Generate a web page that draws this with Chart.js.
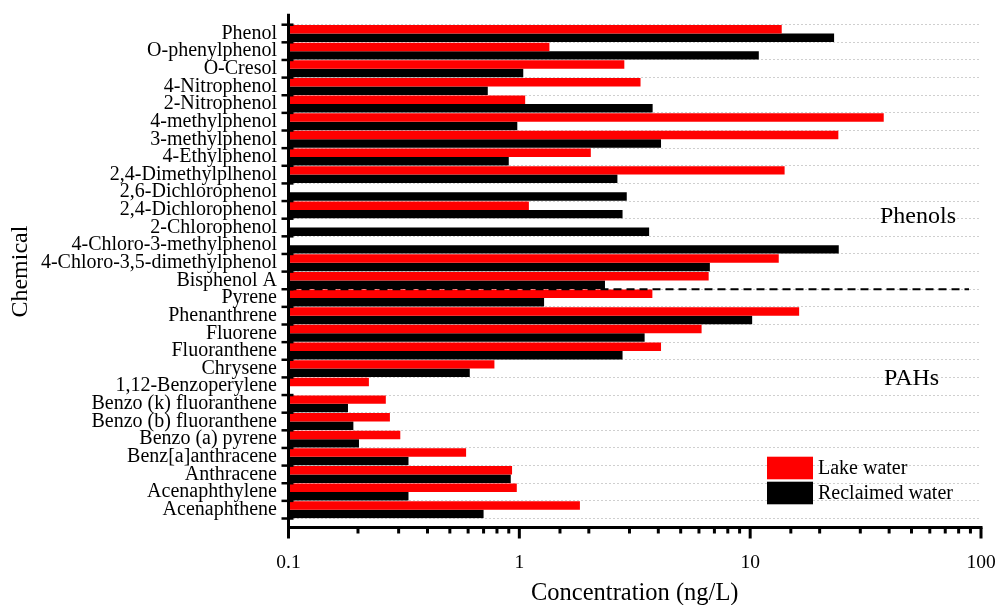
<!DOCTYPE html>
<html lang="en">
<head>
   <meta charset="UTF-8">
   <title>Concentration of phenols and PAHs</title>
   <script src="https://cdn.jsdelivr.net/npm/chart.js@4.4.1/dist/chart.umd.min.js"></script>
   <style>
      html, body { margin: 0; padding: 0; background: #fff; }
      #wrap { width: 997px; height: 605px; }
   </style>
</head>
<body>
   <div id="wrap"><canvas id="myChart" width="997" height="605"></canvas></div>
   <script>
      // categories, top to bottom
      var chemicals = ['Phenol', 'O-phenylphenol', 'O-Cresol', '4-Nitrophenol', '2-Nitrophenol', '4-methylphenol',
         '3-methylphenol', '4-Ethylphenol', '2,4-Dimethylplhenol', '2,6-Dichlorophenol', '2,4-Dichlorophenol',
         '2-Chlorophenol', '4-Chloro-3-methylphenol', '4-Chloro-3,5-dimethylphenol', 'Bisphenol A',
         'Pyrene', 'Phenanthrene', 'Fluorene', 'Fluoranthene', 'Chrysene', '1,12-Benzoperylene',
         'Benzo (k) fluoranthene', 'Benzo (b) fluoranthene', 'Benzo (a) pyrene', 'Benz[a]anthracene',
         'Anthracene', 'Acenaphthylene', 'Acenaphthene'];
      // ng/L, null = not detected
      var lakeWater = [13.7, 1.35, 2.85, 3.35, 1.06, 37.9, 24.1, 2.04, 14.1, null, 1.10, null, null, 13.3, 6.61,
         3.77, 16.3, 6.16, 4.11, 0.78, 0.223, 0.264, 0.275, 0.305, 0.588, 0.93, 0.975, 1.83];
      var reclaimedWater = [23.1, 10.9, 1.04, 0.73, 3.78, 0.98, 4.11, 0.90, 2.66, 2.92, 2.80, 3.65, 24.2, 6.69, 2.35,
         1.28, 10.2, 3.49, 2.80, 0.61, null, 0.181, 0.191, 0.202, 0.331, 0.918, 0.331, 0.70];
      var seriesNames = ['Lake water', 'Reclaimed water'];
      var groupNames = ['Phenols', 'PAHs'];
      var groupLabelAt = ['2-Chlorophenol', '1,12-Benzoperylene']; // rows the group names sit beside
      var lastPhenol = 'Bisphenol A';
      var xTickLabels = [0.1, 1, 10, 100];

      var FONT = '"Liberation Serif", "Times New Roman", serif';

      // axis lines, tick marks, separator, group names, legend
      var decorPlugin = {
         id: 'decor',
         afterDatasetsDraw: function (chart) {
            var g = chart.ctx;
            var area = chart.chartArea;
            var xs = chart.scales.x;
            var ys = chart.scales.y;
            var half = (ys.getPixelForValue(1) - ys.getPixelForValue(0)) / 2;
            var axisY = area.bottom + 9;
            g.save();
            g.strokeStyle = '#000';

            // black dashed line between phenols and PAHs
            var sep = ys.getPixelForValue(chemicals.indexOf(lastPhenol)) + half;
            g.lineWidth = 2;
            g.setLineDash([8, 5]);
            g.beginPath();
            g.moveTo(area.left, sep);
            g.lineTo(area.right - 12, sep);
            g.stroke();
            g.setLineDash([]);

            // y axis and its boundary ticks
            g.lineWidth = 3;
            g.beginPath();
            g.moveTo(area.left, area.top - 11);
            g.lineTo(area.left, axisY + 1.5);
            g.stroke();
            g.lineWidth = 2.5;
            for (var i = 0; i <= chemicals.length; i++) {
               var yy = ys.getPixelForValue(i) - half;
               g.beginPath();
               g.moveTo(area.left - 7, yy);
               g.lineTo(area.left + 5, yy);
               g.stroke();
            }

            // x axis and its ticks
            g.lineWidth = 3;
            g.beginPath();
            g.moveTo(area.left - 1.5, axisY);
            g.lineTo(area.right + 1.5, axisY);
            g.stroke();
            xs.ticks.forEach(function (t) {
               var px = xs.getPixelForValue(t.value);
               var lg = Math.log10(t.value);
               var major = Math.abs(lg - Math.round(lg)) < 1e-6;
               g.beginPath();
               g.moveTo(px, axisY);
               g.lineTo(px, axisY + (major ? 11 : 6));
               g.stroke();
            });

            // group names
            g.fillStyle = '#000';
            g.font = '24px ' + FONT;
            g.textBaseline = 'middle';
            g.textAlign = 'left';
            g.fillText(groupNames[0], 880, ys.getPixelForValue(chemicals.indexOf(groupLabelAt[0])) - 10.5);
            g.fillText(groupNames[1], 884, ys.getPixelForValue(chemicals.indexOf(groupLabelAt[1])) - 8);

            // legend
            g.font = '20px ' + FONT;
            chart.data.datasets.forEach(function (ds, k) {
               var top = 456.7 + k * 25;
               g.fillStyle = ds.backgroundColor;
               g.fillRect(767, top, 46, 22.6);
               g.fillStyle = '#000';
               g.fillText(ds.label, 818, top + 12.5);
            });
            g.restore();
         }
      };

      var ctx = document.getElementById('myChart').getContext('2d');
      var myChart = new Chart(ctx, {
         type: 'bar',
         plugins: [decorPlugin],
         data: {
            labels: chemicals,
            datasets: [{
               label: seriesNames[0],
               data: lakeWater,
               backgroundColor: '#ff0000',
               categoryPercentage: 0.96,
               barPercentage: 1.0
            }, {
               label: seriesNames[1],
               data: reclaimedWater,
               backgroundColor: '#000000',
               categoryPercentage: 0.96,
               barPercentage: 1.0
            }]
         },
         options: {
            indexAxis: 'y',
            responsive: false,
            animation: false,
            layout: { padding: { top: 24.7, right: 16, bottom: 0, left: 0 } },
            plugins: {
               legend: { display: false },
               tooltip: { enabled: false }
            },
            scales: {
               x: {
                  type: 'logarithmic',
                  min: 0.1,
                  max: 100,
                  afterFit: function (scale) {
                     scale.height = 86.5;
                     scale.paddingLeft = 0;
                     scale.paddingRight = 0;
                  },
                  border: { display: false },
                  grid: { display: false },
                  ticks: {
                     autoSkip: false,
                     maxRotation: 0,
                     padding: 25,
                     color: '#000',
                     font: { family: FONT, size: 19.5 },
                     callback: function (value) {
                        return xTickLabels.indexOf(value) >= 0 ? String(value) : '';
                     }
                  },
                  title: {
                     display: true,
                     text: 'Concentration (ng/L)',
                     color: '#000',
                     font: { family: FONT, size: 24.5 },
                     padding: { top: 0, bottom: -3 }
                  }
               },
               y: {
                  afterFit: function (scale) { scale.width = 288.5; },
                  border: { display: false, dash: [2, 2] },
                  grid: {
                     offset: true,
                     drawTicks: false,
                     color: '#cfcfcf',
                     lineWidth: 1
                  },
                  ticks: {
                     autoSkip: false,
                     padding: 11.5,
                     color: '#000',
                     font: { family: FONT, size: 20 }
                  },
                  title: {
                     display: true,
                     text: 'Chemical',
                     color: '#000',
                     font: { family: FONT, size: 24 },
                     padding: { top: 6, bottom: 0 }
                  }
               }
            }
         }
      });
   </script>
</body>
</html>
